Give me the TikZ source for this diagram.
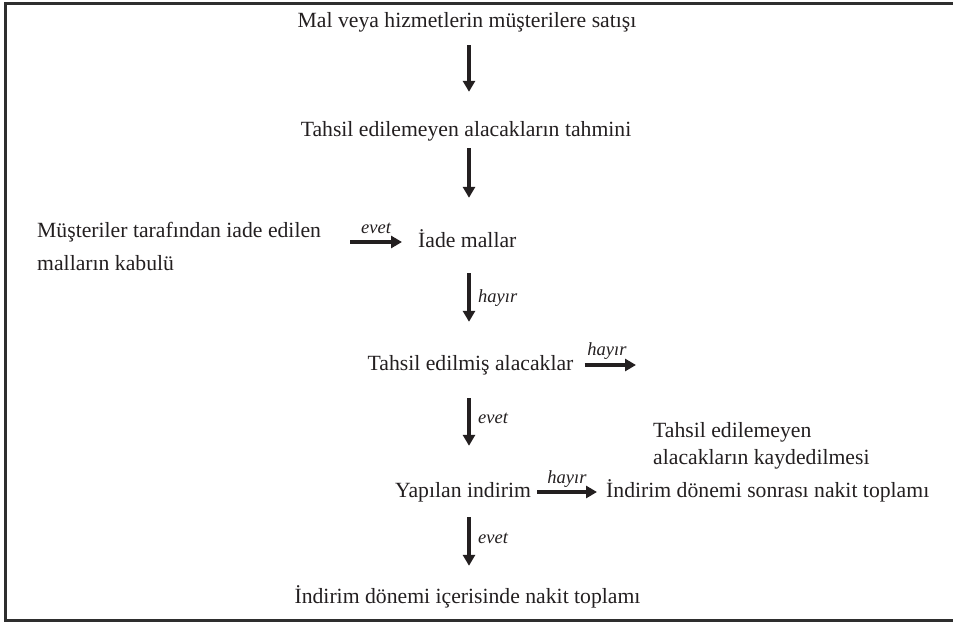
\documentclass[tikz,border=0pt]{standalone}
\usepackage{fontspec}
\setmainfont{Liberation Serif}
\usetikzlibrary{arrows.meta}
\definecolor{ink}{HTML}{231F20}
\definecolor{framec}{HTML}{2E2E2E}
\tikzset{
  txt/.style={inner sep=0pt, text=ink, font=\fontsize{21.7}{26}\selectfont, text height=15pt, text depth=5pt},
  lbl/.style={inner sep=0pt, text=ink, font=\fontsize{18.5}{22}\selectfont\itshape},
  arr/.style={draw=ink, line width=3.3pt, -{Triangle[length=11pt,width=12pt]}},
  framel/.style={draw=framec, line width=3pt}
}
\begin{document}
\begin{tikzpicture}[x=1pt,y=-1pt]
\useasboundingbox (0,0) rectangle (953,623);
% frame (open on the right)
\draw[framel] (953,4) -- (5,4) -- (5,620) -- (953,620);
\coordinate (col) at (469,0);
% main nodes
\node[txt, anchor=base] (T1) at (467,28) {Mal veya hizmetlerin müşterilere satışı};
\node[txt, anchor=base] (T2) at (466,137) {Tahsil edilemeyen alacakların tahmini};
\node[txt, anchor=base west] (L1) at (37,237) {Müşteriler tarafından iade edilen};
\node[txt, anchor=base west] (L2) at (37,270) {malların kabulü};
\node[txt, anchor=base west] (IM) at (418,247) {İade mallar};
\node[txt, anchor=base] (TE) at (470.5,370) {Tahsil edilmiş alacaklar};
\node[txt, anchor=base west] (R1) at (653,437) {Tahsil edilemeyen};
\node[txt, anchor=base west] (R2) at (653,464) {alacakların kaydedilmesi};
\node[txt, anchor=base] (YI) at (463,497) {Yapılan indirim};
\node[txt, anchor=base west] (IS) at (606,497) {İndirim dönemi sonrası nakit toplamı};
\node[txt, anchor=base] (LAST) at (467.5,603) {İndirim dönemi içerisinde nakit toplamı};
\coordinate (h2end) at (636,365);
% connectors
\draw[arr, shorten <=12pt, shorten >=30pt] (T1.south -| col) -- (T2.north -| col);
\draw[arr, shorten <=6pt, shorten >=34pt] (T2.south -| col) -- (IM.north -| col);
\draw[arr, shorten <=21pt, shorten >=33pt] (IM.south -| col) -- (TE.north -| col);
\draw[arr, shorten <=23pt, shorten >=36pt] (TE.south -| col) -- (YI.north -| col);
\draw[arr, shorten <=15pt, shorten >=22pt] (YI.south -| col) -- (LAST.north -| col);
\draw[arr, shorten <=29pt, shorten >=16pt] (L1.east |- IM.center) -- (IM.west);
\draw[arr, shorten <=11pt] (TE.east) -- (h2end);
\draw[arr, shorten <=6pt, shorten >=9pt] (YI.east) -- (IS.west);
% labels
\node[lbl, anchor=base] (lb1) at (376,233) {evet};
\node[lbl, anchor=base west] (lb2) at (478,302) {hayır};
\node[lbl, anchor=base] (lb3) at (607,355) {hayır};
\node[lbl, anchor=base west] (lb4) at (478,423) {evet};
\node[lbl, anchor=base] (lb5) at (567,483) {hayır};
\node[lbl, anchor=base west] (lb6) at (478,543) {evet};
\end{tikzpicture}
\end{document}
